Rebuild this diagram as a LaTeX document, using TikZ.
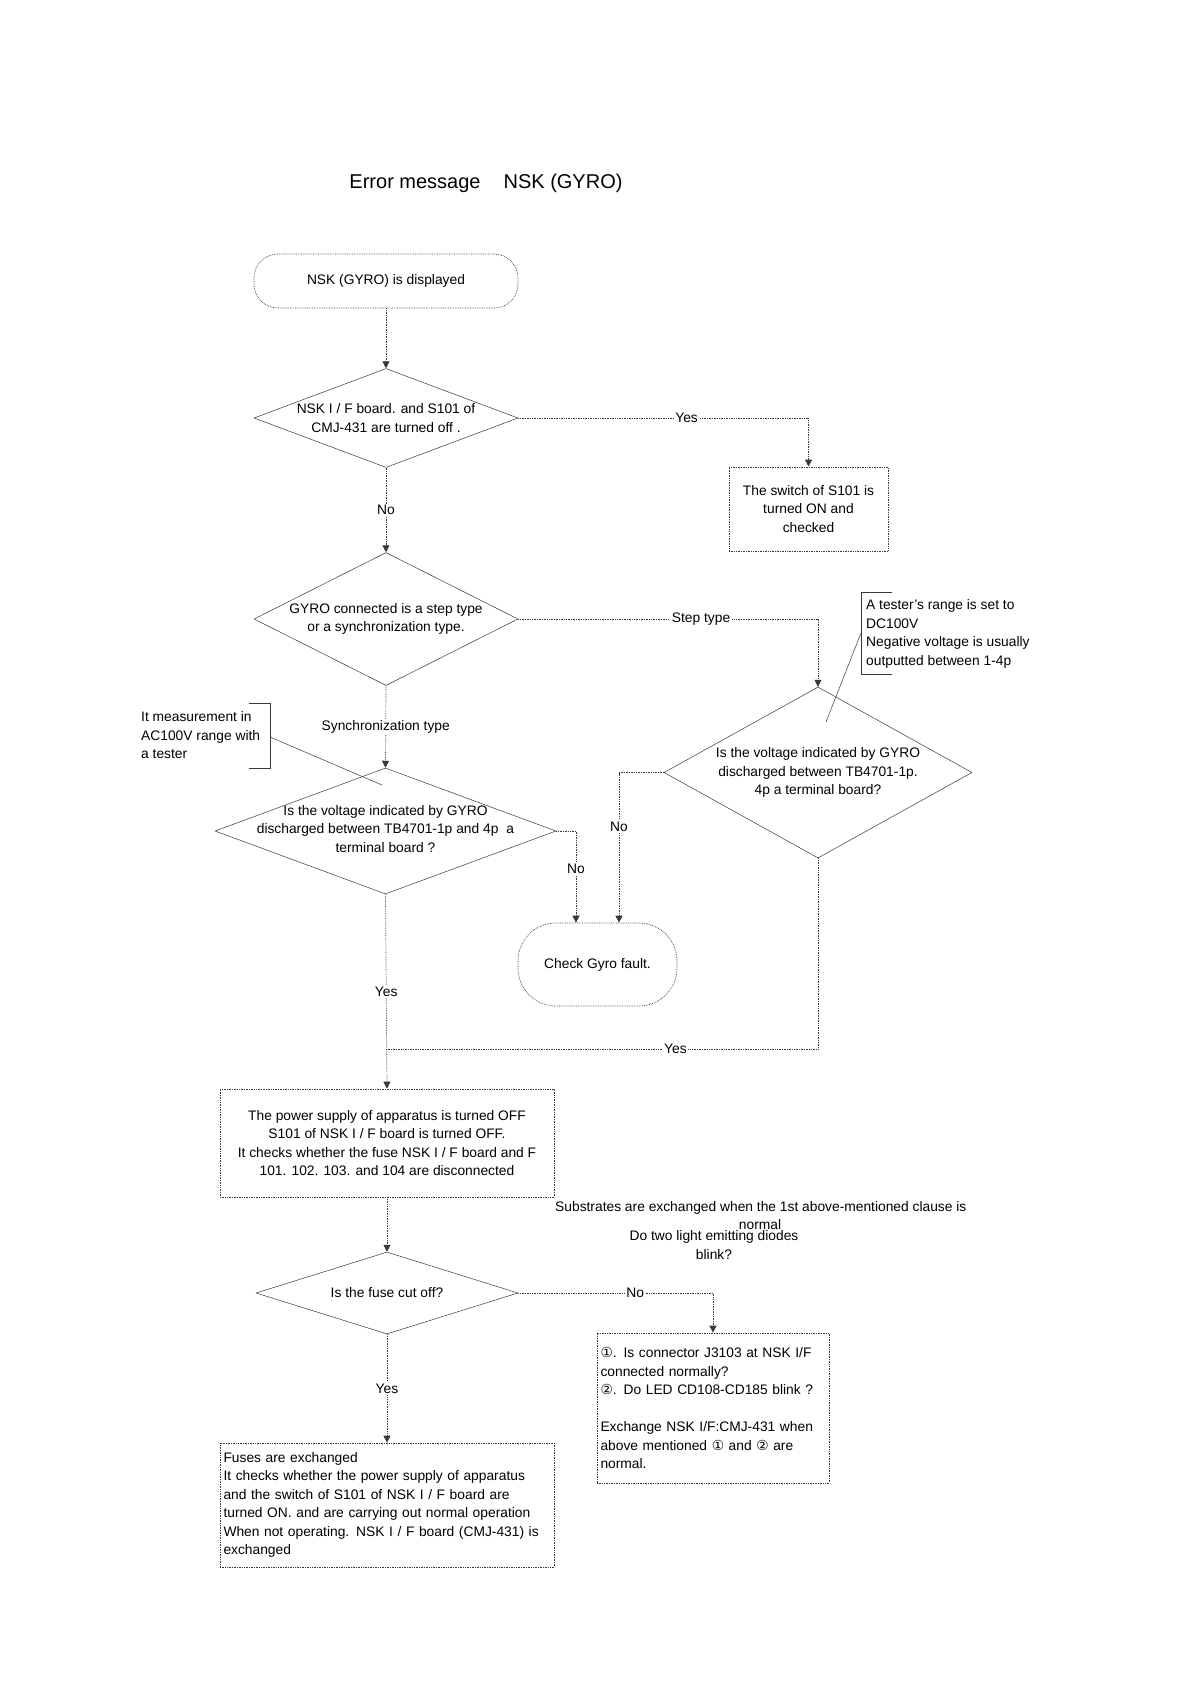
\documentclass[tikz,border=0pt]{standalone}
\usepackage{fontspec}
\setmainfont{Liberation Sans}
\newfontfamily\circfont{DejaVu Sans}
\usepackage{xcolor}
\usepackage{tikz}
\usetikzlibrary{positioning,shapes,calc}
\usetikzlibrary{arrows.meta}
\definecolor{lineGray}{HTML}{383838}
\newcommand{\cA}{{\circfont ①}}
\newcommand{\cB}{{\circfont ②}}
\tikzstyle{nodeText}    =[font=\fontsize{13.8}{18.5}\selectfont, align=center, inner sep=0pt]
\tikzstyle{nodeTitle}   =[font=\fontsize{20}{24}\selectfont, inner sep=0pt]
\tikzstyle{nodeTerm}    =[nodeText, draw=lineGray, densely dotted, line width=0.7pt]
\tikzstyle{nodeBox}     =[nodeText, rectangle, draw=lineGray, densely dotted, line width=0.7pt]
\tikzstyle{nodeDecision}=[diamond, draw=lineGray, line width=0.5pt, inner sep=0pt]
\tikzstyle{nodeLabel}   =[nodeText, fill=white, inner sep=1.5pt]
\tikzstyle{flowLine}    =[draw=lineGray, densely dotted, line width=0.7pt]
\tikzstyle{flowArrow}   =[flowLine, -{Triangle[width=7pt,length=7pt]}]
\tikzstyle{noteLine}    =[draw=lineGray, line width=0.5pt]

\begin{document}
\begin{tikzpicture}[x=1pt,y=-1pt]
      \useasboundingbox (0,0) rectangle (1179,1684);
      \node[nodeTitle] (title) at (486,183) {Error message\hspace{23pt}NSK (GYRO)};
      % main column
      \node[nodeTerm, minimum width=264pt, minimum height=54pt, rounded corners=24pt] (start) at (386,281) {NSK (GYRO) is displayed};
      \node[nodeDecision, minimum width=264pt, minimum height=99pt] (d1) at (386,418) {};
      \node[nodeText] (d1t) at (d1) {NSK I / F board. and S101 of\\CMJ-431 are turned off .};
      \node[nodeBox, minimum width=159pt, minimum height=84pt] (s101) at (808.5,509) {The switch of S101 is\\turned ON and\\checked};
      \node[nodeDecision, minimum width=264pt, minimum height=133pt] (d2) at (386,619) {};
      \node[nodeText] (d2t) at (d2) {GYRO connected is a step type\\or a synchronization type.};
      \node[nodeDecision, minimum width=308pt, minimum height=171pt] (d3) at (818,772.5) {};
      \node[nodeText] (d3t) at (d3) {Is the voltage indicated by GYRO\\discharged between TB4701-1p.\\4p a terminal board?};
      \node[nodeDecision, minimum width=341pt, minimum height=126pt] (d4) at (385.5,831) {};
      \node[nodeText] (d4t) at (385.5,829) {Is the voltage indicated by GYRO\\discharged between TB4701-1p and 4p\hspace{8pt}a\\terminal board ?};
      \node[nodeTerm, minimum width=159pt, minimum height=83pt, rounded corners=38pt] (gyro) at (597.5,964.5) {Check Gyro fault.};
      \node[nodeBox, minimum width=334pt, minimum height=108pt] (power) at (387,1143) {The power supply of apparatus is turned OFF\\S101 of NSK I / F board is turned OFF.\\It checks whether the fuse NSK I / F board and F\\101. 102. 103. and 104 are disconnected};
      \node[nodeDecision, minimum width=262pt, minimum height=82pt] (d5) at (387,1293) {};
      \node[nodeText] (d5t) at (d5) {Is the fuse cut off?};
      \node[nodeBox, minimum width=232pt, minimum height=150pt, inner xsep=3.5pt, text width=225pt, align=left] (conn) at (713,1408) {\cA. Is connector J3103 at NSK I/F\\connected normally?\\\cB. Do LED CD108-CD185 blink ?\\[18.5pt]Exchange NSK I/F:CMJ-431 when\\above mentioned \cA{} and \cB{} are\\normal.};
      \node[nodeBox, minimum width=334pt, minimum height=124pt, inner xsep=3.5pt, text width=327pt, align=left] (fuses) at (387,1505) {Fuses are exchanged\\It checks whether the power supply of apparatus\\and the switch of S101 of NSK I / F board are\\turned ON. and are carrying out normal operation\\When not operating. NSK I / F board (CMJ-431) is\\exchanged};
      % notes
      \node[nodeText, align=left, anchor=west] (noteDC) at (866,634) {A tester’s range is set to\\DC100V\\Negative voltage is usually\\outputted between 1-4p};
      \node[nodeText, align=left, anchor=west] (noteAC) at (141,735.5) {It measurement in\\AC100V range with\\a tester};
      \node[nodeText, anchor=west] (subst) at (555,1208) {Substrates are exchanged when the 1st above-mentioned clause is};
      \node[nodeText] (substN) at (760,1225) {normal};
      \node[nodeText] (blink) at (714,1245) {Do two light emitting diodes\\blink?};
      \coordinate (noteDCend) at (826,722);
      \coordinate (noteACend) at (382,785);
      \coordinate (gyroL) at ($(gyro.north)+(-21.5,0)$);
      \coordinate (gyroR) at ($(gyro.north)+(21.5,0)$);
      \coordinate (yesJoin) at (386,1049);
      % brackets of the notes
      \draw[noteLine] (892,592) -- (861,592) -- (861,674) -- (892,674);
      \draw[noteLine] (861,633) -- (noteDCend);
      \draw[noteLine] (249,703) -- (270,703) -- (270,768) -- (249,768);
      \draw[noteLine] (270,737) -- (noteACend);
      % connectors
      \draw[flowArrow] (start) -- (d1);
      \draw[flowArrow] (d1.east) -- node[nodeLabel, pos=0.58]{Yes} (d1.east -| s101.north) -- (s101.north);
      \draw[flowArrow] (d1.south) -- node[nodeLabel]{No} (d2.north);
      \draw[flowArrow] (d2.east) -- node[nodeLabel, pos=0.61]{Step type} (d2.east -| d3.north) -- (d3.north);
      \draw[flowArrow] (d2.south) -- node[nodeLabel]{Synchronization type} (d4.north);
      \draw[flowArrow] (d4.east) -- (d4.east -| gyroL) -- node[nodeLabel, pos=0.41]{No} (gyroL);
      \draw[flowArrow] (d3.west) -- (d3.west -| gyroR) -- node[nodeLabel, pos=0.36]{No} (gyroR);
      \draw[flowArrow] (d4.south) -- node[nodeLabel]{Yes} (power.north);
      \draw[flowLine] (d3.south) -- (d3.south |- yesJoin) -- node[nodeLabel, pos=0.33]{Yes} (yesJoin);
      \draw[flowArrow] (power.south) -- (d5.north);
      \draw[flowArrow] (d5.east) -- node[nodeLabel, pos=0.6]{No} (d5.east -| conn.north) -- (conn.north);
      \draw[flowArrow] (d5.south) -- node[nodeLabel]{Yes} (fuses.north);
    \end{tikzpicture}
\end{document}
